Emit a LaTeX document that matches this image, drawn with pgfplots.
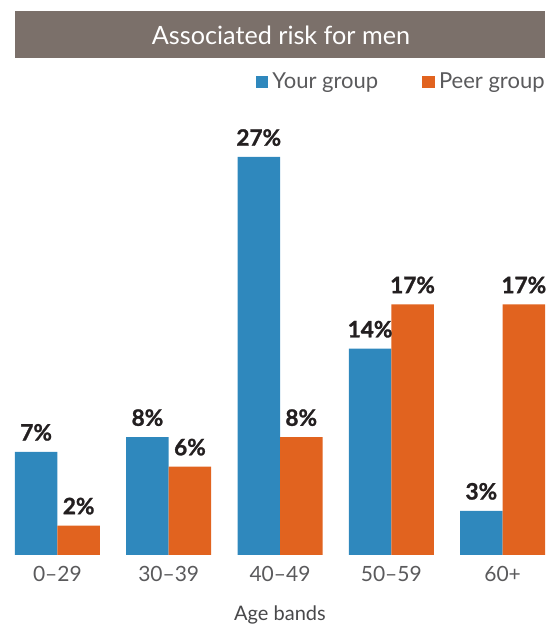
\documentclass[border=0pt]{standalone}
\usepackage{pgfplots}
\pgfplotsset{compat=1.18}
\usepackage{fontspec}
\setmainfont{Lato}
\newfontfamily\heavyfont{Lato}[UprightFont={* Bold}, UprightFeatures={FakeBold=1.2}]
\definecolor{cblue}{HTML}{2F88BD}
\definecolor{corange}{HTML}{E1631F}
\definecolor{ctitle}{HTML}{7B706A}
\definecolor{cgrey}{HTML}{5A5A5C}
\definecolor{cdark}{HTML}{231F20}
\begin{document}
\begin{tikzpicture}[x=0.5pt,y=0.5pt]
\useasboundingbox (0,0) rectangle (558,627);
\fill[ctitle] (15,627-58) rectangle (545,627-11);
\node[text=white,font=\fontsize{12.6pt}{14pt}\selectfont] at (281,627-35) {Associated risk for men};
\begin{axis}[
  at={(7pt,36pt)}, anchor=south west,
  scale only axis, width=266pt, height=199pt,
  ymin=0, ymax=27, xmin=-0.39, xmax=4.39,
  clip=false,
  ybar=0pt, bar width=21.25pt,
  axis line style={draw=none}, major tick length=0pt,
  ytick=\empty, xtick=data,
  xticklabels={0–29,30–39,40–49,50–59,60+},
  xticklabel style={font=\fontsize{10.5pt}{12pt}\selectfont, text=cgrey, anchor=center, yshift=-9.5pt},
  xlabel={Age bands},
  xlabel style={at={(axis description cs:0.5,0)}, anchor=center, yshift=-30pt, font=\fontsize{10pt}{12pt}\selectfont, text=cgrey!80!black},
  /pgf/number format/assume math mode=true,
  nodes near coords={\pgfmathprintnumber{\pgfplotspointmeta}\%},
  nodes near coords style={font=\heavyfont\fontsize{11.3pt}{13pt}\selectfont, text=cdark, yshift=2pt},
  legend columns=2,
  legend style={draw=none, fill=none, at={(1,1)}, anchor=east, yshift=37.5pt, xshift=4.5pt,
    font=\fontsize{11pt}{13pt}\selectfont, text=cgrey,
    /tikz/every even column/.append style={column sep=20pt}},
  legend image code/.code={\fill[#1] (0pt,-3.2pt) rectangle (6.4pt,3.2pt);},
]
\addplot[fill=cblue, draw=none] coordinates {(0,7) (1,8) (2,27) (3,14) (4,3)};
\addplot[fill=corange, draw=none] coordinates {(0,2) (1,6) (2,8) (3,17) (4,17)};
\legend{Your group, Peer group}
\end{axis}
\end{tikzpicture}
\end{document}
